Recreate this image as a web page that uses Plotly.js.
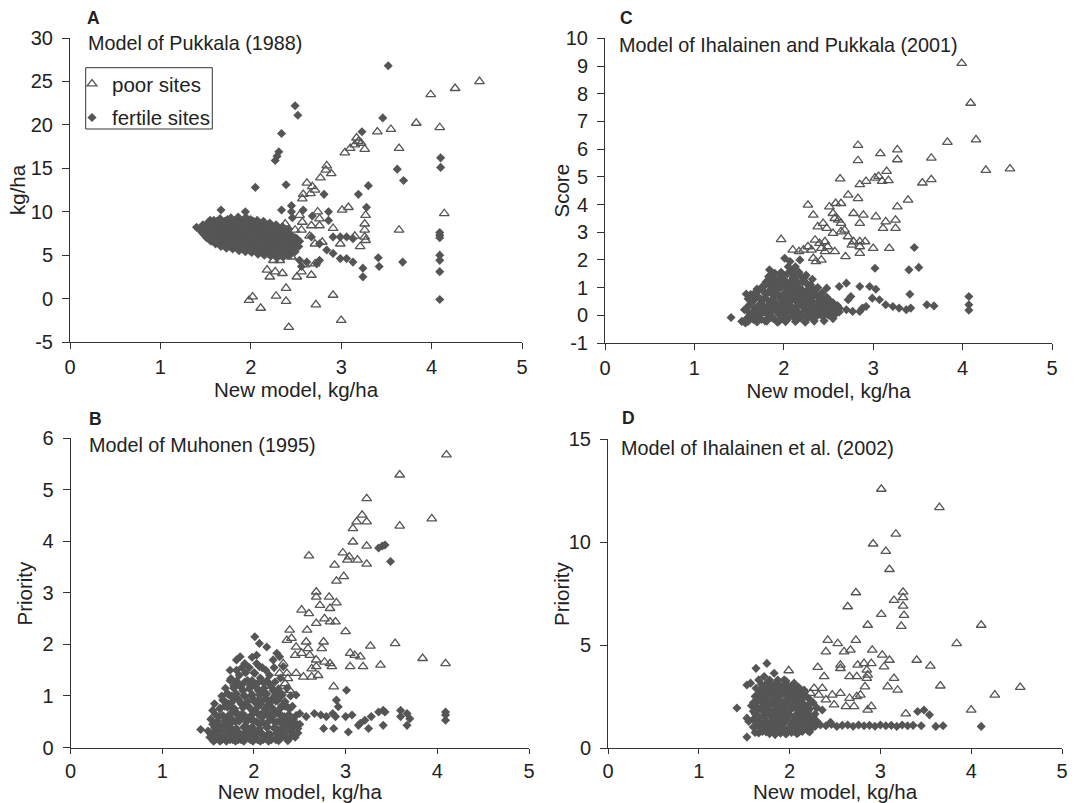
<!DOCTYPE html>
<html><head><meta charset="utf-8">
<script src="https://cdn.plot.ly/plotly-3.0.1.min.js"></script>
<style>html,body{margin:0;padding:0;background:#fff}#chart{width:1076px;height:803px}</style>
</head><body><div id="chart"></div>
<script>
// ---------- tick values / labels ----------
const xTickVals = [0, 1, 2, 3, 4, 5];
const xTickText = ['0', '1', '2', '3', '4', '5'];
const yTickValsA = [-5, 0, 5, 10, 15, 20, 25, 30];
const yTickTextA = ['-5', '0', '5', '10', '15', '20', '25', '30'];
const yTickValsC = [-1, 0, 1, 2, 3, 4, 5, 6, 7, 8, 9, 10];
const yTickTextC = ['-1', '0', '1', '2', '3', '4', '5', '6', '7', '8', '9', '10'];
const yTickValsB = [0, 1, 2, 3, 4, 5, 6];
const yTickTextB = ['0', '1', '2', '3', '4', '5', '6'];
const yTickValsD = [0, 5, 10, 15];
const yTickTextD = ['0', '5', '10', '15'];

const panelLetters = ['A', 'C', 'B', 'D'];
const panelTitles = ['Model of Pukkala (1988)', 'Model of Ihalainen and Pukkala (2001)',
                     'Model of Muhonen (1995)', 'Model of Ihalainen et al. (2002)'];
const yTitles = ['kg/ha', 'Score', 'Priority', 'Priority'];
const xTitle = 'New model, kg/ha';
const seriesNames = ['poor sites', 'fertile sites'];

// ---------- Panel A: Pukkala (1988), kg/ha ----------
const pukkalaPoor = [[4.53,25.0],[4.26,24.2],[3.99,23.5],[3.83,20.2],[4.09,19.7],[3.55,19.5],[3.40,19.2],
 [3.64,17.3],[3.26,17.2],[3.04,16.8],[3.10,17.3],[3.15,17.7],[3.19,18.1],[3.17,18.5],[3.22,17.9],
 [2.84,15.3],[2.83,14.8],[2.89,14.4],[2.77,13.9],[2.62,13.3],[2.68,12.9],[2.58,12.0],[2.66,12.1],[2.71,12.5],[2.57,11.5],
 [3.01,10.2],[3.08,10.5],[3.27,9.6],[3.26,8.6],[3.26,7.9],[3.26,7.1],[3.27,6.7],[3.15,7.2],[3.21,6.0],[2.99,6.3],
 [2.91,8.1],[3.64,7.9],[4.14,9.8],[2.54,9.6],[2.57,8.8],[2.67,8.4],[2.76,8.4],[2.74,10.0],[2.76,9.2],
 [2.49,7.9],[2.56,7.9],[2.65,7.2],[2.71,6.3],[2.79,6.5],[2.38,8.6],[2.25,4.4],[2.32,4.4],[2.45,4.8],
 [2.18,3.3],[2.27,3.1],[2.35,2.9],[2.21,2.5],[2.51,2.5],[2.56,3.1],[2.67,2.7],[2.60,3.9],[2.71,4.0],
 [2.39,1.2],[1.98,-0.2],[2.02,0.2],[2.11,-1.1],[2.28,0.3],[2.39,-0.3],[2.72,-0.7],[2.91,0.4],[3.00,-2.5],[2.42,-3.3]];
const pukkalaFertile = [[3.52,26.8],[2.49,22.2],[2.52,21.1],[3.46,20.8],[2.34,19.0],[3.23,19.2],[2.31,16.9],[2.29,16.4],
 [2.27,15.9],[4.10,16.2],[4.10,15.1],[3.62,14.9],[3.69,13.6],[2.39,13.1],[3.30,13.0],[2.05,12.8],[2.81,12.0],[3.19,12.0],
 [3.28,10.5],[2.34,10.2],[2.45,10.7],[2.45,10.0],[2.46,9.3],[2.58,10.2],[2.68,9.5],[2.86,10.0],[2.86,9.0],[1.67,10.2],[1.94,10.0],
 [1.55,9.0],[2.67,7.1],[2.76,6.3],[2.84,5.6],[2.91,5.2],[2.99,4.6],[3.06,4.6],[3.13,4.2],[3.24,3.5],[3.24,2.5],[3.41,4.7],
 [3.42,3.7],[3.68,4.2],[2.54,4.4],[2.62,4.2],[2.73,4.0],[2.56,3.7],[2.76,4.4],[2.91,7.1],[2.99,7.1],[3.06,7.1],[3.13,6.9],
 [4.09,7.6],[4.09,7.3],[4.09,7.0],[4.09,5.0],[4.09,4.4],[4.09,3.1],[4.09,-0.1]];
const pukkalaFertileCore = [
 [1.40,8.2],[1.46,7.6],[1.47,8.5],[1.51,7.0],[1.52,7.9],[1.53,8.8],[1.56,6.6],[1.57,7.4],[1.58,8.3],[1.59,9.0],[1.61,6.3],
 [1.62,7.1],[1.63,7.8],[1.64,8.6],[1.66,9.2],[1.67,6.0],[1.68,6.8],[1.69,7.5],[1.70,8.2],[1.71,8.9],[1.73,5.8],[1.74,6.5],
 [1.75,7.2],[1.76,7.9],[1.77,8.6],[1.78,9.3],[1.80,5.7],[1.81,6.3],[1.82,7.0],[1.83,7.7],[1.84,8.4],[1.85,9.0],[1.87,5.5],
 [1.88,6.1],[1.89,6.8],[1.90,7.5],[1.91,8.2],[1.92,8.9],[1.94,5.4],[1.95,6.0],[1.96,6.7],[1.97,7.3],[1.98,8.0],[1.99,8.7],
 [2.01,5.3],[2.02,5.9],[2.03,6.5],[2.04,7.2],[2.05,7.8],[2.06,8.5],[2.08,5.1],[2.09,5.7],[2.10,6.3],[2.11,7.0],[2.12,7.6],
 [2.13,8.3],[2.15,5.0],[2.16,5.6],[2.17,6.2],[2.18,6.9],[2.19,7.5],[2.20,8.1],[2.22,4.9],[2.23,5.5],[2.24,6.1],[2.25,6.7],
 [2.26,7.3],[2.27,7.9],[2.29,4.7],[2.30,5.3],[2.31,6.0],[2.32,6.6],[2.33,7.2],[2.34,7.8],[2.36,4.8],[2.37,5.5],[2.38,6.2],
 [2.39,6.9],[2.40,7.5],[2.43,5.0],[2.44,5.8],[2.45,6.5],[2.46,7.2],[2.49,5.4],[2.50,6.2],[2.51,6.9],
 [1.93,9.2],[2.00,9.1],[2.07,9.0],[2.14,8.9],[2.21,8.7],[2.28,8.5],[2.35,8.3],[2.42,8.0],[1.86,9.4],
 [1.44,7.9],[1.49,7.3],[1.50,8.2],[1.54,6.8],[1.55,7.7],[1.56,8.5],[1.60,6.6],[1.60,7.4],[1.61,8.1],[1.62,8.9],[1.65,6.4],
 [1.66,7.2],[1.66,8.0],[1.67,8.7],[1.71,6.2],[1.71,7.0],[1.72,7.8],[1.73,8.5],[1.74,9.1],[1.77,6.0],[1.78,6.8],[1.79,7.5],
 [1.80,8.2],[1.81,8.9],[1.84,5.9],[1.85,6.6],[1.86,7.3],[1.87,8.0],[1.88,8.7],[1.91,5.7],[1.92,6.4],[1.93,7.1],[1.94,7.8],
 [1.95,8.5],[1.96,9.2],[1.98,5.6],[1.99,6.3],[2.00,7.0],[2.01,7.6],[2.02,8.3],[2.03,8.9],[2.05,5.5],[2.06,6.1],[2.07,6.8],
 [2.08,7.4],[2.09,8.0],[2.10,8.7],[2.12,5.3],[2.13,6.0],[2.14,6.6],[2.15,7.2],[2.16,7.9],[2.17,8.5],[2.19,5.2],[2.20,5.8],
 [2.21,6.4],[2.22,7.1],[2.23,7.7],[2.24,8.3],[2.26,5.0],[2.27,5.7],[2.28,6.3],[2.29,6.9],[2.30,7.5],[2.31,8.1],[2.33,5.0],
 [2.34,5.7],[2.35,6.4],[2.36,7.1],[2.37,7.7],[2.40,5.2],[2.41,5.9],[2.42,6.6],[2.43,7.3],[2.47,5.6],[2.48,6.4],[2.49,7.0],
 [2.53,6.0],[2.54,6.6]];

// ---------- Panel C: Ihalainen & Pukkala (2001), score ----------
const ihaPukPoor = [[3.99,9.10],[4.09,7.66],[4.15,6.34],[3.83,6.25],[4.26,5.24],[4.53,5.29],[3.65,5.68],[3.65,4.90],
 [3.55,4.78],[3.27,5.98],[3.27,5.62],[3.08,5.84],[2.83,6.14],[2.83,5.59],[2.63,4.93],[2.85,4.72],[2.92,4.84],[3.02,4.96],
 [3.06,5.02],[3.10,4.84],[3.15,5.20],[3.17,4.87],[1.97,2.74],[2.10,2.36],[2.17,2.30],[2.22,2.36],[2.27,2.48],[2.31,2.36],
 [2.36,1.94],[2.42,2.00],[2.33,2.06],[2.27,3.98],[2.33,3.62],[2.38,3.20],[2.44,3.32],[2.48,3.14],[2.35,2.72],[2.40,2.60],
 [2.46,2.66],[2.42,2.42],[2.46,2.30],[2.51,3.92],[2.58,4.04],[2.64,4.04],[2.55,3.68],[2.61,3.44],[2.57,3.50],[2.72,4.34],
 [2.83,4.22],[2.78,3.68],[2.89,3.62],[2.85,3.32],[2.64,3.32],[2.55,2.96],[2.64,3.02],[2.68,3.08],[2.72,2.84],[2.78,2.66],
 [2.85,2.66],[2.91,2.66],[2.85,2.48],[2.76,2.54],[2.69,2.12],[2.57,2.30],[2.49,2.48],[2.85,2.24],[3.00,2.42],[3.18,2.42],
 [3.03,3.56],[3.14,3.38],[3.25,3.44],[3.27,3.92],[3.39,4.16],[3.11,3.14],[3.25,3.14]];
const ihaPukFertile = [[3.46,2.45],[3.40,1.64],[3.51,1.73],[3.02,1.70],[4.07,0.68],[4.07,0.38],[4.07,0.18],[3.60,0.38],
 [3.68,0.34],[3.41,0.76],[2.48,0.98],[2.62,1.04],[2.70,1.16],[2.85,1.04],[2.96,1.04],[3.03,0.94],[2.75,0.68],[2.72,0.56],
 [2.62,0.26],[2.70,0.20],[2.77,0.14],[2.85,0.14],[2.88,0.26],[2.92,0.32],[2.99,0.62],[3.07,0.56],[3.14,0.38],[3.22,0.32],
 [3.29,0.26],[3.37,0.20],[3.42,0.26],[1.41,-0.08],[1.53,-0.22],[1.57,-0.28],[1.58,0.77],[2.01,2.06],[2.07,1.94],[2.12,1.70],
 [2.18,2.00],[1.84,1.64],[1.83,1.40],[1.90,1.52],[1.88,1.28]];
const ihaPukFertileCore = [
 [1.62,0.05],[1.64,0.45],[1.66,-0.15],[1.68,0.25],[1.70,0.70],[1.72,-0.05],[1.73,0.40],[1.75,1.00],[1.76,0.15],[1.78,0.60],
 [1.79,-0.20],[1.80,1.20],[1.81,0.30],[1.83,0.85],[1.84,0.00],[1.85,0.50],[1.87,1.05],[1.88,0.20],[1.89,0.70],[1.90,-0.15],
 [1.92,0.40],[1.93,0.95],[1.94,0.05],[1.95,1.35],[1.96,0.60],[1.98,0.25],[1.99,1.10],[2.00,-0.10],[2.01,0.80],[2.02,0.45],
 [2.04,1.50],[2.05,0.10],[2.06,0.65],[2.07,1.20],[2.09,0.30],[2.10,0.90],[2.11,-0.05],[2.12,1.40],[2.14,0.50],[2.15,0.15],
 [2.16,1.00],[2.18,0.70],[2.19,-0.10],[2.20,0.35],[2.21,1.20],[2.23,0.05],[2.24,0.55],[2.25,0.85],[2.27,0.20],[2.28,1.05],
 [2.30,0.40],[2.31,-0.05],[2.33,0.70],[2.35,0.15],[2.36,0.95],[2.38,0.45],[2.40,0.05],[2.41,0.75],[2.43,0.25],[2.45,0.55],
 [2.47,0.05],[2.49,0.35],[2.52,0.15],[2.55,0.45],[2.58,0.05],[1.60,0.60],[1.70,0.95],[1.97,1.55],[2.13,1.75],[2.25,1.45],[2.32,1.30],
 [1.56,0.20],[1.59,-0.10],[1.61,0.35],[1.63,0.75],[1.65,0.10],[1.67,0.55],[1.69,-0.05],[1.71,0.30],[1.72,0.90],[1.74,0.60],
 [1.75,-0.15],[1.77,0.35],[1.78,1.05],[1.79,0.80],[1.81,0.05],[1.82,0.55],[1.83,1.15],[1.85,0.25],[1.86,0.80],[1.87,-0.10],
 [1.88,1.45],[1.90,0.45],[1.91,1.20],[1.92,0.15],[1.94,0.75],[1.95,-0.20],[1.96,1.05],[1.97,0.40],[1.99,0.05],[2.00,1.30],
 [2.00,0.60],[2.02,0.25],[2.03,1.00],[2.04,-0.15],[2.05,1.75],[2.06,0.40],[2.08,0.85],[2.08,1.60],[2.09,0.05],[2.10,1.35],
 [2.12,0.60],[2.13,0.25],[2.14,1.15],[2.15,-0.15],[2.16,0.80],[2.17,1.55],[2.18,0.40],[2.20,0.05],[2.21,0.90],[2.22,0.60],
 [2.23,1.35],[2.25,0.25],[2.26,0.70],[2.27,-0.10],[2.29,0.55],[2.30,1.10],[2.32,0.20],[2.33,0.90],[2.34,0.45],[2.36,-0.05],
 [2.37,0.70],[2.39,0.25],[2.40,0.50],[2.42,0.00],[2.44,0.40],[2.46,0.25],[2.48,0.65],[2.50,0.00],[2.53,0.30],[2.56,0.15],[2.60,0.35],
 [1.60,-0.22],[1.70,-0.24],[1.81,-0.21],[1.93,-0.25],[2.02,-0.23],[2.13,-0.22],[2.24,-0.25],[2.34,-0.21],[2.45,-0.20],[2.55,-0.12],
 [1.64,-0.02],[1.74,0.02],[1.86,-0.03],[1.97,0.00],[2.07,-0.02],[2.17,0.02],[2.29,-0.01],[2.38,0.03],[2.51,0.07],[2.62,0.12],
 [1.58,0.22],[1.69,0.15],[1.80,0.18],[1.91,0.20],[2.01,0.16],[2.11,0.19],[2.22,0.15],[2.31,0.22],[2.42,0.16],[2.49,0.18],
 [1.62,0.38],[1.73,0.36],[1.84,0.40],[1.95,0.35],[2.05,0.38],[2.16,0.42],[2.26,0.36],[2.36,0.38],[2.47,0.42],[2.57,0.30],
 [1.66,0.62],[1.77,0.57],[1.88,0.55],[1.98,0.60],[2.09,0.57],[2.19,0.60],[2.30,0.58],[2.40,0.62],[2.51,0.55],
 [1.68,0.82],[1.80,0.78],[1.90,0.80],[2.00,0.75],[2.11,0.78],[2.22,0.80],[2.32,0.78],[2.43,0.82],
 [1.76,1.02],[1.86,0.98],[1.97,1.00],[2.08,1.03],[2.18,0.98],[2.28,0.95],[2.38,1.00],
 [1.82,1.25],[1.93,1.22],[2.03,1.18],[2.14,1.25],[2.24,1.20],
 [1.88,1.50],[1.99,1.45],[2.09,1.48],[2.19,1.42]];

// ---------- Panel B: Muhonen (1995), priority ----------
const muhonenPoor = [[4.10,5.68],[3.59,5.29],[3.23,4.83],[3.18,4.51],[3.12,4.38],[3.23,4.38],[3.08,4.25],[3.94,4.44],
 [3.59,4.30],[3.08,3.99],[3.23,3.91],[2.88,3.54],[3.23,3.56],[2.97,3.78],[3.04,3.70],[3.02,3.64],[3.13,3.64],[2.60,3.72],
 [2.90,3.23],[2.98,3.32],[2.68,3.02],[2.68,2.92],[2.82,2.92],[2.72,2.76],[2.90,2.81],[2.52,2.67],[2.60,2.60],[2.68,2.41],
 [2.77,2.50],[2.83,2.44],[2.89,2.44],[2.83,2.70],[3.00,2.25],[2.39,2.28],[2.58,2.28],[2.36,2.08],[2.41,2.12],[2.57,2.05],
 [2.59,1.92],[2.76,2.05],[2.74,1.92],[3.27,1.97],[3.54,2.02],[2.46,1.95],[2.45,1.79],[2.52,1.83],[2.61,1.79],[2.68,1.70],
 [2.77,1.66],[2.83,1.63],[2.85,1.57],[2.68,1.57],[3.05,1.83],[3.10,1.79],[3.16,1.76],[3.19,1.57],[3.05,1.57],[3.38,1.60],
 [2.63,1.53],[2.46,1.44],[2.54,1.37],[2.63,1.37],[2.70,1.40],[3.84,1.73],[4.09,1.63],[2.87,1.18],[2.32,1.63],[2.36,1.44],
 [2.28,1.44],[2.34,1.24],[2.39,1.11],[2.37,1.34]];
const muhonenFertile = [[3.36,3.87],[3.40,3.91],[3.43,3.93],[3.49,3.61],[2.46,1.02],[3.01,1.11],[2.90,0.92],[2.92,0.79],
 [1.66,0.92],[1.55,0.72],[1.42,0.35],[2.01,2.15],[2.06,2.02],[2.14,1.95],[1.85,1.76],[1.81,1.70],[1.90,1.63],[1.74,1.50],
 [1.75,1.34],[2.03,1.79],[2.03,1.63],[2.01,1.44],[2.25,1.83],[2.28,1.76],[2.21,1.70],[2.32,1.57],[2.06,1.57],
 [2.50,0.66],[2.57,0.60],[2.66,0.66],[2.73,0.63],[2.79,0.60],[2.86,0.66],[2.89,0.60],[3.00,0.60],[3.07,0.63],[3.14,0.43],
 [3.21,0.53],[3.28,0.60],[3.36,0.69],[3.43,0.69],[2.76,0.37],[2.87,0.37],[3.03,0.30],[3.25,0.37],[3.41,0.43],[3.16,0.47],
 [3.60,0.72],[3.67,0.66],[3.67,0.43],[3.60,0.60],[3.70,0.56],[4.09,0.69],[4.09,0.63],[4.09,0.53],[3.41,0.72]];
const muhonenFertileCore = [
 [1.52,0.20],[1.55,0.45],[1.58,0.15],[1.60,0.30],[1.62,0.60],[1.64,0.18],[1.66,0.42],[1.68,0.80],[1.70,0.25],[1.71,1.05],
 [1.72,0.55],[1.74,0.15],[1.75,0.38],[1.77,0.75],[1.78,1.20],[1.79,0.20],[1.80,0.50],[1.82,0.95],[1.83,0.30],[1.84,1.40],
 [1.86,0.15],[1.87,0.65],[1.88,1.10],[1.89,0.40],[1.91,0.85],[1.92,0.22],[1.93,1.30],[1.94,0.55],[1.96,0.15],[1.97,1.00],
 [1.98,0.35],[1.99,0.70],[2.01,1.20],[2.02,0.20],[2.03,0.50],[2.04,0.90],[2.06,0.30],[2.07,1.35],[2.08,0.65],[2.10,0.15],
 [2.11,1.05],[2.12,0.45],[2.14,0.80],[2.15,0.25],[2.16,1.25],[2.18,0.55],[2.19,0.15],[2.20,0.95],[2.22,0.38],[2.23,0.70],
 [2.25,0.20],[2.26,1.10],[2.28,0.50],[2.30,0.80],[2.31,0.28],[2.33,0.60],[2.35,0.18],[2.37,0.45],[2.39,0.75],[2.41,0.30],
 [2.43,0.55],[2.45,0.20],[2.47,0.45],[1.95,1.55],[2.13,1.50],[1.76,1.00],[2.40,1.00],[1.65,0.15],[2.29,1.35],
 [1.50,0.32],[1.53,0.55],[1.56,0.28],[1.57,0.85],[1.59,0.48],[1.61,0.18],[1.63,0.75],[1.63,0.40],[1.65,1.00],[1.67,0.22],
 [1.67,0.60],[1.69,1.15],[1.70,0.42],[1.72,0.85],[1.73,0.28],[1.74,1.30],[1.76,0.55],[1.77,0.15],[1.78,0.95],[1.80,0.35],
 [1.80,0.70],[1.81,1.50],[1.83,0.15],[1.84,0.55],[1.85,1.20],[1.86,0.85],[1.88,0.25],[1.89,0.60],[1.90,1.00],[1.91,1.45],
 [1.92,0.40],[1.94,0.80],[1.95,0.22],[1.96,1.20],[1.97,0.55],[1.99,0.95],[2.00,0.30],[2.00,1.45],[2.02,0.70],[2.04,0.15],
 [2.05,1.10],[2.06,0.45],[2.07,0.85],[2.09,0.25],[2.09,1.55],[2.10,0.60],[2.11,1.25],[2.13,0.18],[2.13,0.95],[2.15,0.40],
 [2.16,0.65],[2.17,1.40],[2.18,0.25],[2.20,0.75],[2.21,1.10],[2.22,0.50],[2.24,0.15],[2.24,0.90],[2.26,0.35],[2.27,0.65],
 [2.29,0.18],[2.30,1.00],[2.32,0.45],[2.34,0.80],[2.35,0.30],[2.36,1.15],[2.38,0.55],[2.40,0.20],[2.42,0.80],[2.44,0.40],
 [2.46,0.62],[2.48,0.28],[2.50,0.45],[1.98,1.75],[1.87,1.55],[2.22,1.55],
 [1.56,0.12],[1.63,0.12],[1.70,0.12],[1.80,0.12],[1.89,0.12],[1.99,0.12],[2.07,0.12],[2.16,0.12],[2.27,0.13],[2.37,0.13],
 [1.53,0.26],[1.61,0.24],[1.69,0.27],[1.77,0.25],[1.85,0.26],[1.93,0.28],[2.01,0.24],[2.09,0.27],[2.17,0.25],[2.25,0.28],[2.34,0.24],[2.43,0.27],
 [1.57,0.38],[1.65,0.36],[1.73,0.39],[1.81,0.37],[1.90,0.38],[1.98,0.40],[2.06,0.37],[2.14,0.39],[2.23,0.36],[2.31,0.38],[2.39,0.40],[2.48,0.37],
 [1.60,0.50],[1.68,0.52],[1.76,0.49],[1.84,0.51],[1.92,0.50],[2.00,0.52],[2.08,0.49],[2.16,0.51],[2.25,0.50],[2.33,0.52],[2.42,0.49],
 [1.58,0.64],[1.66,0.62],[1.74,0.65],[1.82,0.63],[1.90,0.62],[1.98,0.64],[2.06,0.62],[2.14,0.65],[2.22,0.63],[2.30,0.62],[2.38,0.64],
 [1.63,0.76],[1.71,0.78],[1.79,0.75],[1.88,0.77],[1.96,0.76],[2.04,0.78],[2.12,0.75],[2.20,0.77],[2.29,0.76],[2.37,0.78],
 [1.68,0.90],[1.76,0.88],[1.84,0.91],[1.93,0.89],[2.01,0.88],[2.09,0.90],[2.18,0.88],[2.26,0.91],[2.34,0.89],
 [1.73,1.02],[1.81,1.04],[1.89,1.01],[1.98,1.03],[2.06,1.02],[2.14,1.04],[2.23,1.01],[2.31,1.03],
 [1.78,1.15],[1.86,1.17],[1.95,1.14],[2.03,1.16],[2.11,1.15],[2.19,1.17],[2.27,1.14],
 [1.81,1.29],[1.90,1.27],[1.98,1.30],[2.06,1.28],[2.14,1.29],[2.23,1.27]];

// ---------- Panel D: Ihalainen et al. (2002), priority ----------
const ihaEtalPoor = [[3.01,12.58],[3.65,11.69],[3.17,10.40],[2.92,9.92],[3.06,9.56],[3.10,8.68],[2.73,7.55],[2.64,6.87],
 [3.15,7.18],[3.25,7.58],[3.25,7.31],[3.25,6.90],[3.01,6.50],[3.26,6.45],[3.23,5.92],[2.86,5.97],[4.11,5.97],[3.84,5.08],
 [2.42,5.24],[2.53,5.08],[2.73,5.24],[2.60,4.68],[2.67,4.76],[2.40,4.68],[2.91,4.76],[3.02,4.52],[3.10,4.27],[3.04,3.95],
 [2.31,3.92],[2.56,4.03],[2.56,3.87],[2.75,4.03],[2.82,4.11],[2.90,4.11],[2.85,3.79],[2.86,3.55],[2.85,3.39],[3.40,4.27],
 [3.55,3.98],[2.38,3.47],[2.66,3.47],[2.74,3.47],[2.83,2.98],[3.15,3.39],[3.08,2.98],[3.19,2.82],[3.66,3.02],[4.54,2.95],
 [4.26,2.58],[4.00,1.85],[3.28,1.66],[1.99,3.76],[2.27,2.90],[2.36,2.90],[2.47,2.58],[2.56,2.66],[2.66,2.42],[2.74,2.50],
 [2.78,2.58],[2.90,2.02],[2.86,1.85],[2.71,2.02],[2.62,2.02],[2.49,2.10],[2.32,2.58],[2.40,2.34],[2.23,2.66]];
const ihaEtalFertile = [[1.42,1.94],[1.63,3.87],[1.75,4.11],[1.53,3.06],[1.57,3.15],[1.66,3.31],[1.72,3.47],[1.83,3.63],
 [1.94,3.31],[2.05,3.15],[2.16,2.82],[2.36,1.85],[1.53,1.45],[1.55,1.29],[1.53,0.53],[1.66,0.73],[3.41,1.77],[3.48,1.85],
 [3.54,1.61],[3.61,1.05],[3.69,1.08],[4.11,1.05],
 [2.22,1.15],[2.28,1.05],[2.34,1.12],[2.40,1.08],[2.46,1.15],[2.52,1.05],[2.58,1.10],[2.64,1.12],[2.70,1.06],[2.76,1.12],
 [2.82,1.08],[2.88,1.10],[2.94,1.06],[3.00,1.12],[3.06,1.08],[3.12,1.10],[3.18,1.05],[3.24,1.12],[3.30,1.08],[3.36,1.10],
 [3.45,1.08],[2.30,1.30],[2.45,1.25]];
const ihaEtalFertileCore = [
 [1.78,0.70],[1.84,0.65],[1.90,0.72],[1.96,0.68],[2.02,0.75],[2.08,0.70],[2.14,0.80],[2.20,0.85],
 [1.62,2.50],[1.65,1.90],[1.67,2.80],[1.68,1.20],[1.70,2.20],[1.72,1.55],[1.73,3.00],[1.75,0.95],[1.76,2.60],[1.77,1.85],
 [1.78,3.30],[1.80,1.25],[1.81,2.35],[1.82,1.00],[1.83,2.90],[1.84,1.65],[1.86,2.05],[1.87,0.85],[1.88,3.10],[1.89,1.40],
 [1.90,2.55],[1.92,1.05],[1.93,1.90],[1.94,2.80],[1.95,1.25],[1.97,2.25],[1.98,0.90],[1.99,3.00],[2.00,1.60],[2.02,2.55],
 [2.03,1.15],[2.04,2.00],[2.06,2.85],[2.07,0.95],[2.08,1.45],[2.09,2.30],[2.11,1.80],[2.12,1.05],[2.13,2.65],[2.15,1.30],
 [2.16,2.10],[2.18,1.60],[2.19,0.95],[2.21,2.40],[2.22,1.90],[2.24,1.40],[2.26,2.20],[2.28,1.65],[1.60,1.40],[1.58,2.05],
 [1.70,0.80],[2.10,2.95],[1.96,3.25],[2.30,1.95],
 [1.60,2.20],[1.62,1.65],[1.63,2.90],[1.64,1.10],[1.66,2.45],[1.67,1.45],[1.69,3.10],[1.69,1.95],[1.71,0.95],[1.71,2.65],
 [1.73,1.25],[1.74,2.35],[1.74,1.75],[1.76,3.20],[1.77,1.10],[1.78,2.10],[1.79,2.80],[1.80,1.55],[1.81,0.90],[1.82,3.05],
 [1.83,2.15],[1.84,1.30],[1.85,2.60],[1.86,1.80],[1.87,3.30],[1.88,1.10],[1.89,2.25],[1.90,0.95],[1.91,1.65],[1.92,2.90],
 [1.93,1.30],[1.95,2.10],[1.96,0.85],[1.97,2.65],[1.98,1.45],[2.00,2.35],[2.00,1.00],[2.01,1.85],[2.03,2.80],[2.04,1.30],
 [2.05,0.80],[2.06,2.15],[2.08,1.65],[2.09,2.60],[2.10,1.10],[2.12,2.00],[2.13,1.50],[2.14,0.90],[2.15,2.45],[2.17,1.25],
 [2.18,1.85],[2.20,1.10],[2.21,2.10],[2.23,1.55],[2.25,1.00],[2.27,1.30],
 [1.62,0.75],[1.74,0.78],[1.86,0.75],[1.98,0.78],[2.10,0.76],[2.22,0.78],
 [1.60,1.02],[1.68,0.98],[1.79,1.03],[1.91,1.00],[2.02,1.02],[2.14,0.98],[2.24,1.02],
 [1.63,1.28],[1.74,1.32],[1.86,1.28],[1.97,1.32],[2.09,1.28],[2.20,1.32],
 [1.66,1.55],[1.78,1.58],[1.89,1.54],[1.95,1.58],[2.06,1.55],[2.15,1.58],[2.26,1.52],
 [1.60,1.78],[1.70,1.82],[1.81,1.78],[1.90,1.82],[1.98,1.78],[2.09,1.82],[2.20,1.78],
 [1.63,2.05],[1.73,2.08],[1.84,2.04],[1.92,2.08],[2.01,2.05],[2.10,2.08],[2.19,2.02],
 [1.66,2.32],[1.77,2.28],[1.86,2.32],[1.94,2.28],[2.05,2.32],[2.13,2.28],[2.23,2.32],
 [1.64,2.58],[1.72,2.52],[1.81,2.58],[1.88,2.52],[1.97,2.58],[2.05,2.52],[2.17,2.58],
 [1.70,2.82],[1.78,2.78],[1.87,2.82],[1.99,2.78],[2.08,2.80],[2.16,2.76],
 [1.75,3.05],[1.84,3.08],[1.93,3.05],[2.02,3.02]];

// ---------- build ----------
const W = 1076, H = 803;
const FONT = 'Liberation Sans, Arial, Helvetica, sans-serif';
const fx = v => v / W;
const fy = v => 1 - v / H;
const xsOf = a => a.map(p => p[0]);
const ysOf = a => a.map(p => p[1]);

const poorMarker = {symbol: 'triangle-up-open', size: 8.5, color: '#555555', line: {width: 1.3, color: '#555555'}};
const fertMarker = {symbol: 'diamond', size: 7, color: '#555555', line: {width: 0}};

const panels = [
  {poor: pukkalaPoor, fert: pukkalaFertile.concat(pukkalaFertileCore), xa: 'x', ya: 'y'},
  {poor: ihaPukPoor, fert: ihaPukFertile.concat(ihaPukFertileCore), xa: 'x2', ya: 'y2'},
  {poor: muhonenPoor, fert: muhonenFertile.concat(muhonenFertileCore), xa: 'x3', ya: 'y3'},
  {poor: ihaEtalPoor, fert: ihaEtalFertile.concat(ihaEtalFertileCore), xa: 'x4', ya: 'y4'}
];
const data = [];
panels.forEach((p, i) => {
  data.push({type: 'scatter', mode: 'markers', name: seriesNames[0], x: xsOf(p.poor), y: ysOf(p.poor),
             xaxis: p.xa, yaxis: p.ya, marker: poorMarker, showlegend: i === 0, legendgroup: 'poor', hoverinfo: 'x+y'});
});
panels.forEach((p, i) => {
  data.push({type: 'scatter', mode: 'markers', name: seriesNames[1], x: xsOf(p.fert), y: ysOf(p.fert),
             xaxis: p.xa, yaxis: p.ya, marker: fertMarker, showlegend: i === 0, legendgroup: 'fert', hoverinfo: 'x+y'});
});

function xAxis(domainPx, anchor, tlen, lstand, standoff) {
  return {domain: [fx(domainPx[0]), fx(domainPx[1])], anchor: anchor, range: [0, 5],
    tickmode: 'array', tickvals: xTickVals, ticktext: xTickText,
    showline: true, linecolor: '#333', linewidth: 1, ticks: 'outside', ticklen: tlen, tickcolor: '#333',
    showgrid: false, zeroline: false, automargin: false, fixedrange: true, ticklabelstandoff: lstand,
    tickfont: {family: FONT, size: 20, color: '#222'},
    title: {text: xTitle, font: {family: FONT, size: 20.5, color: '#222'}, standoff: standoff}};
}
function yAxis(domainPx, anchor, range, vals, text) {
  return {domain: [fy(domainPx[1]), fy(domainPx[0])], anchor: anchor, range: range,
    tickmode: 'array', tickvals: vals, ticktext: text,
    showline: true, linecolor: '#333', linewidth: 1, ticks: 'outside', ticklen: 7, tickcolor: '#333',
    showgrid: false, zeroline: false, automargin: false, fixedrange: true, ticklabelstandoff: 5,
    tickfont: {family: FONT, size: 20, color: '#222'}};
}

const letterPos = [[85, 18], [618, 18], [87, 419], [620, 418]];
const titlePos = [[86, 43], [617, 45], [87, 445], [619, 448]];
const yTitlePos = [[17, 190], [561, 190.5], [23.5, 593], [561.5, 593.5]];
const annotations = [];
panelLetters.forEach((t, i) => {
  annotations.push({text: '<b>' + t + '</b>', xref: 'paper', yref: 'paper', x: fx(letterPos[i][0]), y: fy(letterPos[i][1]),
    xanchor: 'left', yanchor: 'middle', showarrow: false, font: {family: FONT, size: 17.5, color: '#222'}});
  annotations.push({text: panelTitles[i], xref: 'paper', yref: 'paper', x: fx(titlePos[i][0]), y: fy(titlePos[i][1]),
    xanchor: 'left', yanchor: 'middle', showarrow: false, font: {family: FONT, size: 19.8, color: '#222'}});
  annotations.push({text: yTitles[i], xref: 'paper', yref: 'paper', x: fx(yTitlePos[i][0]), y: fy(yTitlePos[i][1]),
    xanchor: 'center', yanchor: 'middle', textangle: -90, showarrow: false, font: {family: FONT, size: 20.5, color: '#222'}});
});

const layout = {
  width: W, height: H, margin: {l: 0, r: 0, t: 0, b: 0},
  paper_bgcolor: '#fff', plot_bgcolor: 'rgba(0,0,0,0)',
  font: {family: FONT, color: '#222'},
  xaxis: xAxis([70, 522], 'y', 6, 1, 0),
  yaxis: yAxis([38, 342], 'x', [-5, 30], yTickValsA, yTickTextA),
  xaxis2: xAxis([605, 1052], 'y2', 6, 1, 0),
  yaxis2: yAxis([38.3, 343], 'x2', [-1, 10], yTickValsC, yTickTextC),
  xaxis3: xAxis([70.5, 529], 'y3', 5, 0, 0),
  yaxis3: yAxis([438.3, 747.5], 'x3', [0, 6], yTickValsB, yTickTextB),
  xaxis4: xAxis([608, 1062], 'y4', 5, 0, 0),
  yaxis4: yAxis([439.3, 748], 'x4', [0, 15], yTickValsD, yTickTextD),
  showlegend: true,
  legend: {x: fx(72), y: fy(64), xanchor: 'left', yanchor: 'top', bgcolor: 'rgba(0,0,0,0)', borderwidth: 0,
           font: {family: FONT, size: 20.5, color: '#222'}, itemwidth: 30, tracegroupgap: 4},
  shapes: [{type: 'rect', xref: 'paper', yref: 'paper', x0: fx(85.7), x1: fx(212.3), y0: fy(129), y1: fy(67.7),
            line: {color: '#333', width: 1}, fillcolor: 'rgba(0,0,0,0)'}],
  annotations: annotations
};

Plotly.newPlot('chart', data, layout, {displayModeBar: false, staticPlot: true});
</script></body></html>
